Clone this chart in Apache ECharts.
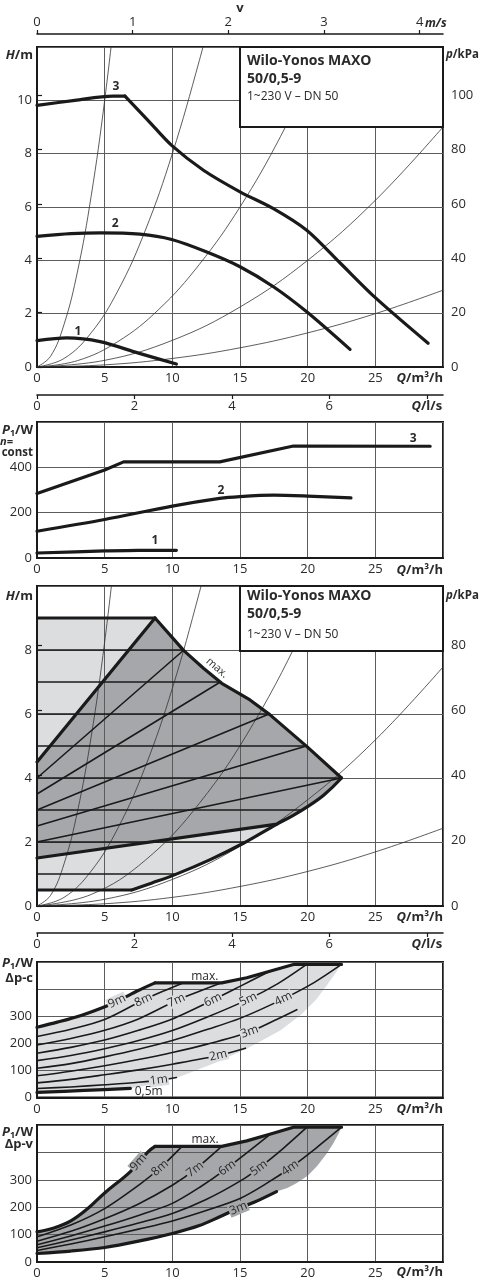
<!DOCTYPE html>
<html><head><meta charset="utf-8">
<script src="https://cdn.jsdelivr.net/npm/echarts@6/dist/echarts.min.js"></script>
<style>html,body{margin:0;padding:0;background:#fff}#c{width:482px;height:1280px}</style>
</head><body><div id="c"></div>
<script>
// ---------- tick labels ----------
const qLabels = [0, 5, 10, 15, 20, 25];
const lsLabels = [0, 2, 4, 6, 8];
const vLabels = [0, 1, 2, 3, 4];
const h1Labels = [0, 2, 4, 6, 8, 10];
const p1kPaLabels = [0, 20, 40, 60, 80, 100];
const pw2Labels = [0, 200, 400];
const h3Labels = [0, 2, 4, 6, 8];
const p3kPaLabels = [0, 20, 40, 60, 80];
const pw45Labels = [0, 100, 200, 300];

// ---------- panel 1 : H(Q), n = const ----------
const p1Curve3 = [[0,9.81],[2.8,10.0],[5.6,10.16],[6.5,10.16],[8.2,9.25],[9.95,8.31],[12.3,7.38],[15,6.57],[17.47,5.94],[19.93,5.13],[22.4,3.9],[25,2.6],[28.9,0.89]];
const p1Curve2 = [[0,4.9],[2.5,5.0],[4.7,5.03],[7.6,4.98],[9.95,4.78],[12.5,4.32],[15,3.76],[17.47,3.01],[19.93,2.07],[23.13,0.66]];
const p1Curve1 = [[0,0.99],[2.2,1.09],[4.66,0.95],[7.5,0.52],[10.3,0.11]];
const p1SysA = [[0,0],[1,0.4],[2,1.6],[3,3.6],[4,6.4],[5,10],[6,14.4]];
const p1SysB = [[0,0],[2,0.32],[4,1.28],[6,2.88],[8,5.12],[10,8],[12,11.5],[13,13.5]];
const p1SysC = [[0,0],[3,0.24],[6,0.96],[9,2.16],[12,3.85],[15,6.0],[18,8.65],[21,11.8],[22,12.9]];
const p1SysD = [[0,0],[5,0.25],[10,1],[15,2.25],[20,4],[25,6.25],[30,9]];
const p1SysE = [[0,0],[5,0.08],[10,0.32],[15,0.72],[20,1.28],[25,2.0],[30,2.88]];
const p1CurveLabels = [['3',5.84,10.5],['2',5.77,5.36],['1',3.03,1.31]];

// ---------- panel 2 : P1(Q), n = const ----------
const p2Curve3 = [[0,285],[5,388],[6.4,424],[13.5,424],[18.95,494],[29.05,493]];
const p2Curve2 = [[0,118],[5,170],[10,229],[13.5,263],[15,271],[17.5,277],[20,273],[23.2,265]];
const p2Curve1 = [[0,22],[5,31],[7.5,34],[10.3,34]];
const p2CurveLabels = [['3',27.8,529],['2',13.6,299],['1',8.72,78]];

// ---------- panel 3 : H(Q) control field ----------
const p3Max = [[8.72,9],[10.85,7.98],[12.3,7.43],[13.65,6.96],[15.74,6.44],[17.2,5.98],[19.95,4.98],[22.5,4.0]];
const p3Min = [[7,0.5],[8.5,0.72],[10.2,0.98],[12.8,1.45],[15.25,1.96],[17.6,2.53],[19.0,2.85],[20.05,3.12],[21.2,3.47],[22.5,4.0]];
const p3DpcH = [9, 8, 7, 6, 5, 4, 3, 2, 1, 0.5];
const p3DpcQend = [8.72, 10.85, 13.55, 17.15, 19.9, 22.5, 19.6, 15.4, 10.3, 7.0];
const p3DpvStart = [4.5, 4, 3.5, 3, 2.5, 2, 1.5];
const p3DpvEnd = [[8.72,9],[10.85,8],[13.55,7],[17.15,6],[19.9,5],[22.5,4],[17.6,2.55]];
const p3SysA = [[0,0],[1,0.33],[2,1.32],[3,2.97],[4,5.28],[5,8.25],[6,11.9]];
const p3SysB = [[0,0],[2,0.27],[4,1.09],[6,2.45],[8,4.35],[10,6.8],[12,9.8],[13,11.5]];
const p3SysC = [[0,0],[4,0.36],[8,1.43],[12,3.21],[16,5.71],[20,8.92],[22,10.8]];
const p3SysD = [[0,0],[5,0.21],[10,0.83],[15,1.87],[20,3.32],[25,5.19],[30,7.47]];
const p3SysE = [[0,0],[5,0.07],[10,0.27],[15,0.61],[20,1.08],[25,1.69],[30,2.43]];

// ---------- panel 4 : P1(Q), dp-c ----------
const p4H9 = [[0,259],[1.5,278],[3.2,302],[5.15,338],[6.2,362],[7.4,393],[8.72,423],[13.65,423],[15.5,442],[17.2,466],[18.95,491],[22.5,491]];
const p4H8 = [[0,225],[2.5,252],[5,288],[7.86,360],[9.3,392],[10.7,421]];
const p4H7 = [[0,194],[2.5,218],[5,248],[7.5,290],[10.3,358],[12,392],[13.65,423]];
const p4H6 = [[0,163],[2.5,185],[5,212],[7.5,248],[10,290],[13.0,360],[15,410],[17.2,466]];
const p4H5 = [[0,136],[2.5,155],[5,180],[7.5,210],[10,247],[12.5,295],[15.6,362],[17.8,420],[19.9,490]];
const p4H4 = [[0,108],[2.5,125],[5,150],[7.5,178],[10,210],[12.5,250],[15,292],[18.2,364],[20.5,425],[22.5,491]];
const p4H3 = [[0,80],[2.5,97],[5,117],[7.5,140],[10,166],[12.5,196],[15.74,243],[17.5,283],[19.2,324]];
const p4H2 = [[0,54],[2.5,67],[5,84],[7.5,102],[10,123],[13.4,155],[15.4,182]];
const p4H1 = [[0,33],[2.5,39],[5,47],[7.5,56],[9,64],[10.3,74]];
const p4H05 = [[0,19],[3.5,26],[6.9,34]];
const p4Edge = [[6.9,34],[8.5,48],[10.3,72],[13,125],[15.5,180],[18,248],[19.5,305],[20.6,360],[21.5,420],[22.5,491]];

// ---------- panel 5 : P1(Q), dp-v ----------
const p5H9 = [[0,110],[1.25,124],[2.5,150],[3.75,195],[5,252],[6.9,330],[8.2,402],[8.72,422],[13.65,422],[15.5,442],[17.2,466],[18.95,492],[22.5,492]];
const p5H8 = [[0,92],[2.5,135],[5,195],[7.5,280],[9.09,343],[10.7,421]];
const p5H7 = [[0,76],[2.5,112],[5,158],[7.5,212],[10,280],[11.68,338],[13.65,422]];
const p5H6 = [[0,63],[2.5,95],[5,131],[7.5,170],[10,214],[12,272],[14.05,343],[17.2,465]];
const p5H5 = [[0,52],[2.5,80],[5,110],[7.5,142],[10,177],[12.5,228],[15,295],[16.4,343],[18.2,415],[19.95,492]];
const p5H4 = [[0,42],[2.5,66],[5,92],[7.5,120],[10,150],[12.5,188],[15,232],[16.9,285],[18.7,343],[20.6,415],[22.5,492]];
const p5H3 = [[0,31],[2.5,40],[5,53],[7.5,76],[10,104],[12,133],[13.5,165],[14.88,196],[16,217],[17.7,257]];
const p5Edge = [[17.7,257],[18.5,270],[19.2,288],[20.0,315],[20.7,350],[21.4,395],[21.9,433],[22.3,470],[22.5,492]];

// ---------- styling ----------
const FONT = '"Open Sans", "Noto Sans", sans-serif';
const INK = '#1a1a1a';
const GRIDC = '#5c5c5c';
const TXT = '#2a2a2a';
const LIGHT = '#dcdddf';
const DARK = '#a6a7aa';

function qAxis(g) {
  return {type:'value', gridIndex:g, min:0, max:30, interval:5, position:'bottom',
    axisLine:{show:true, onZero:false, lineStyle:{color:INK, width:2}},
    axisTick:{show:false},
    splitLine:{show:true, lineStyle:{color:GRIDC, width:1}},
    axisLabel:{margin:5, color:TXT, fontSize:13, fontFamily:FONT, customValues:qLabels,
      formatter:v => qLabels.indexOf(v) >= 0 ? String(v) : ''}};
}
function lsAxis(g, off) {
  return {type:'value', gridIndex:g, min:0, max:30/3.6, interval:2, position:'bottom', offset:off,
    axisLine:{show:true, onZero:false, lineStyle:{color:INK, width:1.6}},
    axisTick:{show:true, length:4, inside:false, lineStyle:{color:INK, width:1.2}, customValues:lsLabels},
    splitLine:{show:false},
    axisLabel:{margin:5, color:TXT, fontSize:13, fontFamily:FONT, customValues:lsLabels,
      formatter:v => v === 8 ? '{q|Q}{b|/l/s}' : (lsLabels.indexOf(v) >= 0 ? String(v) : ''),
      rich:{q:{fontStyle:'italic', fontWeight:'bold', fontSize:13, fontFamily:FONT, color:TXT},
            b:{fontWeight:'bold', fontSize:13, fontFamily:FONT, color:TXT}}}};
}
function leftAxis(g, max, interval, labels) {
  return {type:'value', gridIndex:g, min:0, max:max, interval:interval, position:'left',
    axisLine:{show:true, onZero:false, lineStyle:{color:INK, width:2}},
    axisTick:{show:false},
    splitLine:{show:true, lineStyle:{color:GRIDC, width:1}},
    axisLabel:{margin:5, color:TXT, fontSize:13, fontFamily:FONT, customValues:labels,
      formatter:v => labels.indexOf(v) >= 0 ? String(v) : ''}};
}
function rightAxis(g, max, labels) {
  return {type:'value', gridIndex:g, min:0, max:max, interval:20, position:'right',
    axisLine:{show:false},
    axisTick:{show:true, length:5, inside:false, lineStyle:{color:INK, width:1.2}, customValues:labels},
    splitLine:{show:false},
    axisLabel:{margin:8, color:TXT, fontSize:13, fontFamily:FONT, customValues:labels,
      formatter:v => labels.indexOf(v) >= 0 ? String(v) : ''}};
}
function ln(xi, yi, data, w, extra) {
  return Object.assign({type:'line', xAxisIndex:xi, yAxisIndex:yi, data:data, showSymbol:false, symbol:'none',
    smooth:0.3, silent:true, z:3,
    lineStyle:{color:INK, width:w, cap:'round', join:'round'}}, extra || {});
}
function thin(xi, yi, data) {
  return ln(xi, yi, data, 0.8, {smooth:0.4, lineStyle:{color:'#333', width:0.8}, z:2});
}
function poly(xi, yi, pts, color) {
  return {type:'custom', xAxisIndex:xi, yAxisIndex:yi, z:-1, silent:true, data:[[0,0]],
    renderItem:function(params, api){
      return {type:'polygon', shape:{points:pts.map(p => api.coord(p))}, style:{fill:color}};
    }};
}

// polygons for the control fields
const p3MaxRev = p3Max.slice().reverse();
const p3LightPoly = [[0,0.5]].concat(p3Min, p3MaxRev, [[0,9]]);
const p3DarkPoly = [[0,1.5]].concat(p3Min.filter(p => p[0] >= 17.6), p3MaxRev, [[0,4.5]]);
const p4LightPoly = p4H05.concat(p4Edge, p4H9.slice().reverse());
const p5DarkPoly = p5H3.concat(p5Edge, p5H9.slice().reverse());

const series = [
  // panel 1
  thin(0,0,p1SysA), thin(0,0,p1SysB), thin(0,0,p1SysC), thin(0,0,p1SysD), thin(0,0,p1SysE),
  ln(0,0,p1Curve3.slice(0,4),3.2), ln(0,0,p1Curve3.slice(3),3.2), ln(0,0,p1Curve2,3.2), ln(0,0,p1Curve1,3.2),
  // panel 2
  ln(3,2,p2Curve3,3.2,{smooth:false}), ln(3,2,p2Curve2,3.2), ln(3,2,p2Curve1,3.2),
  // panel 3
  poly(4,3,p3LightPoly,LIGHT), poly(4,3,p3DarkPoly,DARK),
  thin(4,3,p3SysA), thin(4,3,p3SysB), thin(4,3,p3SysC), thin(4,3,p3SysD), thin(4,3,p3SysE)
];
p3DpcH.forEach((h,i) => {
  const thick = (h === 9 || h === 0.5);
  series.push(ln(4,3,[[0,h],[p3DpcQend[i],h]], thick ? 3.2 : 1.6, {smooth:false, lineStyle:{color:INK, width: thick ? 3.2 : 1.6, cap:'butt'}}));
});
p3DpvStart.forEach((h,i) => {
  const thick = (i === 0 || i === p3DpvStart.length - 1);
  series.push(ln(4,3,[[0,h],p3DpvEnd[i]], thick ? 3.2 : 1.6, {smooth:false}));
});
series.push(ln(4,3,p3Max,3.2,{smooth:false}), ln(4,3,p3Min,3.2,{smooth:0.3}));
// panel 4
series.push(poly(6,5,p4LightPoly,LIGHT));
[p4H8,p4H7,p4H6,p4H5,p4H4,p4H3,p4H2,p4H1].forEach(d => series.push(ln(6,5,d,1.6)));
series.push(ln(6,5,p4H9.slice(0,7),3.2), ln(6,5,p4H9.slice(6),3.2,{smooth:false}), ln(6,5,p4H05,3.2));
// panel 5
series.push(poly(7,6,p5DarkPoly,DARK));
[p5H8,p5H7,p5H6,p5H5,p5H4].forEach(d => series.push(ln(7,6,d,1.6)));
series.push(ln(7,6,p5H9.slice(0,8),3.2,{smooth:0.4}), ln(7,6,p5H9.slice(7),3.2,{smooth:false}), ln(7,6,p5H3,3.2));

const gridBase = {left:37, width:406, show:true, borderColor:INK, borderWidth:2, backgroundColor:'transparent'};
const option = {
  animation:false,
  backgroundColor:'#fff',
  grid:[
    Object.assign({top:47, height:320}, gridBase),
    Object.assign({top:422, height:136}, gridBase),
    Object.assign({top:586, height:320}, gridBase),
    Object.assign({top:962, height:135.5}, gridBase),
    Object.assign({top:1125, height:137}, gridBase)
  ],
  xAxis:[
    qAxis(0),
    {type:'value', gridIndex:0, min:0, max:4.244, interval:1, position:'top', offset:13,
      axisLine:{show:true, onZero:false, lineStyle:{color:INK, width:1.6}},
      axisTick:{show:true, length:4, inside:false, lineStyle:{color:INK, width:1.2}, customValues:vLabels},
      splitLine:{show:false},
      axisLabel:{margin:5, color:TXT, fontSize:13, fontFamily:FONT, customValues:vLabels,
        formatter:v => vLabels.indexOf(v) >= 0 ? String(v) : ''}},
    lsAxis(0, 28),
    qAxis(1),
    qAxis(2),
    lsAxis(2, 27),
    qAxis(3),
    qAxis(4)
  ],
  yAxis:[
    leftAxis(0, 12, 2, h1Labels),
    rightAxis(0, 12*9.81, p1kPaLabels),
    leftAxis(1, 600, 200, pw2Labels),
    leftAxis(2, 10, 2, h3Labels),
    rightAxis(2, 10*9.81, p3kPaLabels),
    leftAxis(3, 500, 100, pw45Labels),
    leftAxis(4, 500, 100, pw45Labels)
  ],
  series:series
};

const chart = echarts.init(document.getElementById('c'), null, {width:482, height:1280});
chart.setOption(option);

// ---------- texts ----------
function T(x, y, text, o) {
  o = o || {};
  return {type:'text', x:x, y:y, z:80, rotation:o.rot || 0,
    style:Object.assign({text:text, fill:TXT, fontFamily:FONT, fontSize:o.size || 13,
      fontWeight:o.weight || 'normal', fontStyle:o.style || 'normal',
      align:o.align || 'left', verticalAlign:'middle'}, o.extra || {})};
}
function RB(sz) {
  return {i:{fontStyle:'italic', fontWeight:'bold', fontSize:sz, fontFamily:FONT, fill:TXT},
          b:{fontWeight:'bold', fontSize:sz, fontFamily:FONT, fill:TXT},
          s:{fontWeight:'bold', fontSize:9, fontFamily:FONT, fill:TXT, padding:[6,0,0,0]}};
}
function unitText(x, y, str, align, sz) {
  return T(x, y, str, {align:align, weight:'bold', extra:{rich:RB(sz || 13)}});
}
function px(g, q, v) { return chart.convertToPixel({gridIndex:g}, [q, v]); }
function interp(arr, q) {
  for (let i = 0; i < arr.length - 1; i++) {
    const a = arr[i], b = arr[i+1];
    if (q >= a[0] && q <= b[0]) { const t = (q - a[0]) / (b[0] - a[0]); return a[1] + t * (b[1] - a[1]); }
  }
  return arr[arr.length-1][1];
}
function onLine(g, arr, q, text, bg) {
  const p = px(g, q, interp(arr, q));
  const a = px(g, q - 0.6, interp(arr, q - 0.6));
  const b = px(g, q + 0.6, interp(arr, q + 0.6));
  const ang = Math.atan2(-(b[1] - a[1]), b[0] - a[0]);
  return T(p[0], p[1], text, {align:'center', size:12, rot:ang, extra:{backgroundColor:bg, padding:[0,1,0,1]}});
}
function box(y, h) {
  return {type:'rect', z:70, shape:{x:240, y:y, width:203, height:h}, style:{fill:'#fff', stroke:INK, lineWidth:2}};
}

const g = [];
// panel 1
g.push(T(240, 8, 'v', {align:'center', weight:'bold'}));
g.push(T(425, 24, 'm/s', {weight:'bold', style:'italic', size:12}));
g.push(unitText(33, 55, '{i|H}{b|/m}', 'right'));
g.push(unitText(446, 55, '{i|p}{b|/kPa}', 'left', 11.5));
g.push(unitText(443, 378, '{i|Q}{b|/m³/h}', 'right'));
g.push(box(47, 80));
g.push(T(247, 61, 'Wilo-Yonos MAXO', {weight:'bold', size:14}));
g.push(T(247, 79, '50/0,5-9', {weight:'bold', size:14}));
g.push(T(247, 97, '1~230 V – DN 50', {size:12}));
p1CurveLabels.forEach(l => { const p = px(0, l[1], l[2]); g.push(T(p[0], p[1], l[0], {align:'center', weight:'bold', size:12})); });
// panel 2
g.push(unitText(33, 430, '{i|P}{s|1}{b|/W}', 'right'));
g.push(T(0, 442, 'n=', {weight:'bold', style:'italic', size:11}));
g.push(T(33, 453, 'const', {weight:'bold', size:11.5, align:'right'}));
g.push(unitText(443, 570, '{i|Q}{b|/m³/h}', 'right'));
p2CurveLabels.forEach(l => { const p = px(1, l[1], l[2]); g.push(T(p[0], p[1], l[0], {align:'center', weight:'bold', size:12})); });
// panel 3
g.push(unitText(33, 596, '{i|H}{b|/m}', 'right'));
g.push(unitText(446, 596, '{i|p}{b|/kPa}', 'left', 11.5));
g.push(unitText(443, 917, '{i|Q}{b|/m³/h}', 'right'));
g.push(box(586, 65));
g.push(T(247, 596, 'Wilo-Yonos MAXO', {weight:'bold', size:14}));
g.push(T(247, 614, '50/0,5-9', {weight:'bold', size:14}));
g.push(T(247, 635, '1~230 V – DN 50', {size:12}));
(function(){
  const p = px(2, 13.3, 7.44);
  const a = px(2, 10.85, 7.98), b = px(2, 13.65, 6.96);
  g.push(T(p[0], p[1], 'max.', {align:'center', size:11, rot:Math.atan2(-(b[1]-a[1]), b[0]-a[0])}));
})();
// panel 4
g.push(unitText(33, 963, '{i|P}{s|1}{b|/W}', 'right'));
g.push(unitText(33, 978, '{b|Δp-c}', 'right'));
g.push(unitText(443, 1109, '{i|Q}{b|/m³/h}', 'right'));
[[p4H9,5.9,'9m'],[p4H8,7.86,'8m'],[p4H7,10.3,'7m'],[p4H6,13.0,'6m'],[p4H5,15.6,'5m'],[p4H4,18.2,'4m'],[p4H3,15.7,'3m'],[p4H2,13.4,'2m'],[p4H1,9.0,'1m']]
  .forEach(l => g.push(onLine(3, l[0], l[1], l[2], LIGHT)));
(function(){ const p = px(3, 8.25, 21); g.push(T(p[0], p[1], '0,5m', {align:'center', size:12})); })();
(function(){ const p = px(3, 12.4, 447); g.push(T(p[0], p[1], 'max.', {align:'center', size:12})); })();
// panel 5
g.push(unitText(33, 1132, '{i|P}{s|1}{b|/W}', 'right'));
g.push(unitText(33, 1144, '{b|Δp-v}', 'right'));
g.push(unitText(443, 1272, '{i|Q}{b|/m³/h}', 'right'));
[[p5H9,7.5,'9m'],[p5H8,9.09,'8m'],[p5H7,11.68,'7m'],[p5H6,14.05,'6m'],[p5H5,16.4,'5m'],[p5H4,18.7,'4m'],[p5H3,14.88,'3m']]
  .forEach(l => g.push(onLine(4, l[0], l[1], l[2], DARK)));
(function(){ const p = px(4, 12.42, 445); g.push(T(p[0], p[1], 'max.', {align:'center', size:12})); })();

chart.setOption({graphic:g});
</script>
</body></html>
